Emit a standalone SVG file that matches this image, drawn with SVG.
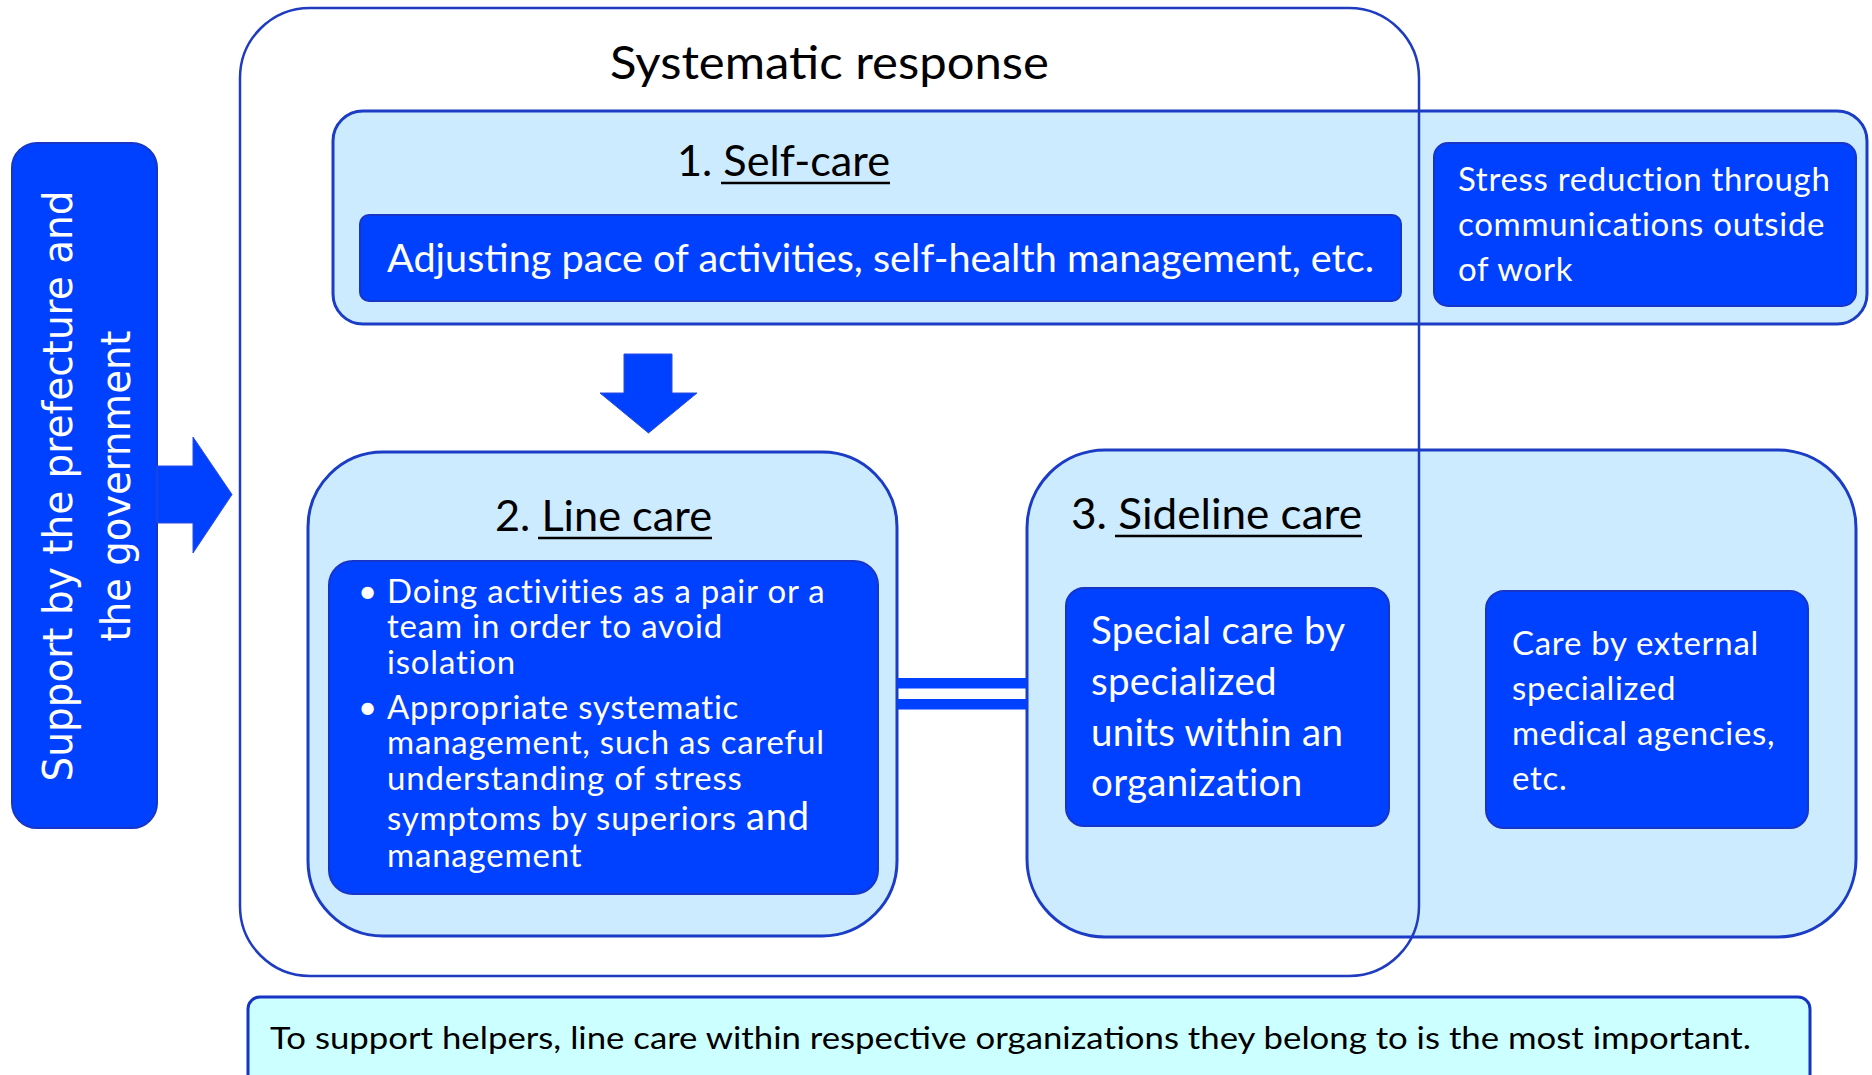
<svg xmlns="http://www.w3.org/2000/svg" width="1872" height="1075" viewBox="0 0 1872 1075">
  <style>
    .t { font-family: Lato, "Liberation Sans", sans-serif; }
    .body { font-size: 33px; letter-spacing: 0.7px; }
    .dark { fill: #000000; }
    .white { fill: #ffffff; }
    .light { fill: #cdebff; stroke: #1b3cc4; stroke-width: 3; }
    .solid { fill: #0041ff; stroke: #1736c8; stroke-width: 2; }
    .frame { fill: none; stroke: #1f3cc0; stroke-width: 2.5; }
    .note { fill: #ccffff; stroke: #1534c4; stroke-width: 3; }
    .arrow { fill: #0041ff; stroke: #2a4de0; stroke-width: 1; }
    .ul { stroke: #000000; stroke-width: 2.5; }
  </style>

  <rect width="1872" height="1075" fill="#ffffff"/>

  <!-- outer support column -->
  <g id="support">
    <rect class="solid" x="12" y="143" width="145" height="685" rx="25"/>
    <text class="white" transform="translate(72,486) rotate(-90)" text-anchor="middle" font-family="'DejaVu Sans', sans-serif" font-size="41" textLength="591" lengthAdjust="spacingAndGlyphs">Support by the prefecture and</text>
    <text class="white" transform="translate(130,486) rotate(-90)" text-anchor="middle" font-family="'DejaVu Sans', sans-serif" font-size="41" textLength="311" lengthAdjust="spacingAndGlyphs">the government</text>
  </g>

  <!-- 1. self-care band -->
  <g id="self-care">
    <rect class="light" x="333" y="111" width="1534" height="213" rx="30"/>
    <text class="t dark" x="677" y="176" font-size="42" textLength="213" lengthAdjust="spacingAndGlyphs">1. Self-care</text>
    <line class="ul" x1="721" y1="183" x2="890" y2="183"/>
  </g>

  <!-- 3. sideline care -->
  <g id="sideline-care">
    <rect class="light" x="1027" y="450" width="829" height="487" rx="78"/>
    <text class="t dark" x="1071" y="529" font-size="42" textLength="291" lengthAdjust="spacingAndGlyphs">3. Sideline care</text>
    <line class="ul" x1="1115" y1="536" x2="1362" y2="536"/>
  </g>

  <!-- systematic response frame -->
  <g id="systematic-response">
    <rect class="frame" x="240" y="8" width="1179" height="968" rx="70"/>
    <text class="t dark" x="610" y="79" font-size="47" textLength="439" lengthAdjust="spacingAndGlyphs">Systematic response</text>
  </g>

  <g id="self-care-detail">
    <rect class="solid" x="360" y="215" width="1041" height="86" rx="9"/>
    <text class="t white" x="387" y="272" font-size="38" textLength="987" lengthAdjust="spacingAndGlyphs">Adjusting pace of activities, self-health management, etc.</text>
  </g>

  <g id="stress-reduction">
    <rect class="solid" x="1434" y="143" width="422" height="163" rx="14"/>
    <text class="t body white">
      <tspan x="1458" y="191">Stress reduction through</tspan>
      <tspan x="1458" y="236">communications outside</tspan>
      <tspan x="1458" y="281">of work</tspan>
    </text>
  </g>

  <!-- 2. line care -->
  <g id="line-care">
    <rect class="light" x="308" y="452" width="589" height="484" rx="75"/>
    <text class="t dark" x="495" y="531" font-size="42" textLength="217" lengthAdjust="spacingAndGlyphs">2. Line care</text>
    <line class="ul" x1="538" y1="538" x2="712" y2="538"/>
    <rect class="solid" x="329" y="561" width="549" height="333" rx="24"/>
    <text class="t body white" style="letter-spacing:0.8px">
      <tspan x="358" y="603">•</tspan>
      <tspan x="387" y="603">Doing activities as a pair or a</tspan>
      <tspan x="387" y="638">team in order to avoid</tspan>
      <tspan x="387" y="674">isolation</tspan>
      <tspan x="358" y="719">•</tspan>
      <tspan x="387" y="719">Appropriate systematic</tspan>
      <tspan x="387" y="754">management, such as careful</tspan>
      <tspan x="387" y="790">understanding of stress</tspan>
      <tspan x="387" y="830">symptoms by superiors <tspan font-size="38">and</tspan></tspan>
      <tspan x="387" y="867">management</tspan>
    </text>
  </g>

  <g id="special-care">
    <rect class="solid" x="1066" y="588" width="323" height="238" rx="18"/>
    <text class="t white" font-size="38.5" letter-spacing="0.3">
      <tspan x="1091" y="644">Special care by</tspan>
      <tspan x="1091" y="695">specialized</tspan>
      <tspan x="1091" y="746">units within an</tspan>
      <tspan x="1091" y="796">organization</tspan>
    </text>
  </g>

  <g id="external-care">
    <rect class="solid" x="1486" y="591" width="322" height="237" rx="18"/>
    <text class="t body white">
      <tspan x="1512" y="655">Care by external</tspan>
      <tspan x="1512" y="700">specialized</tspan>
      <tspan x="1512" y="745">medical agencies,</tspan>
      <tspan x="1512" y="790">etc.</tspan>
    </text>
  </g>

  <g id="summary">
    <rect class="note" x="248" y="997" width="1562" height="110" rx="12"/>
    <text class="t dark" x="270" y="1049" font-size="31.5" textLength="1481" lengthAdjust="spacingAndGlyphs">To support helpers, line care within respective organizations they belong to is the most important.</text>
  </g>

  <!-- connectors -->
  <g id="connectors">
    <polygon class="arrow" points="157,466 193,466 193,437 232,494.5 193,553 193,523 157,523"/>
    <polygon class="arrow" points="624,354 672,354 672,393 697,393 648.5,433 600,393 624,393"/>
    <rect x="897" y="678" width="130" height="10.5" fill="#0041ff"/>
    <rect x="897" y="699" width="130" height="10.5" fill="#0041ff"/>
  </g>
</svg>
